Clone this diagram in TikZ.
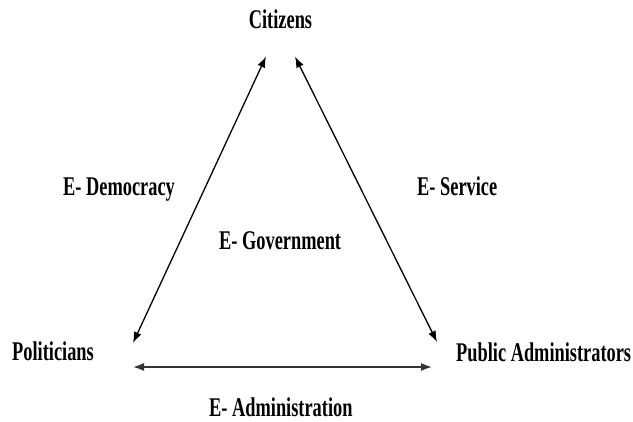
\documentclass[tikz,border=0pt]{standalone}
\usepackage{fontspec}
\setmainfont{Liberation Serif}[FakeStretch=0.68]
\usetikzlibrary{arrows.meta}
\tikzset{
  lbl/.style={inner sep=0pt, font=\fontsize{27}{30}\selectfont\bfseries},
  link/.style={line width=1.3pt, {Latex[length=11pt,width=8pt]}-{Latex[length=11pt,width=8pt]}},
}
\begin{document}
\begin{tikzpicture}[x=1pt,y=-1pt]
\useasboundingbox (0,0) rectangle (633,422);
\node[lbl, anchor=base] (cit) at (280.5,29) {Citizens};
\node[lbl, anchor=base west] (pol) at (12,360.5) {Politicians};
\node[lbl, anchor=base west] (pub) at (456,361.5) {Public Administrators};
\node[lbl, anchor=base west] (dem) at (63,196) {E- Democracy};
\node[lbl, anchor=base west] (ser) at (417,196) {E- Service};
\node[lbl, anchor=base west] (gov) at (219,249.5) {E- Government};
\node[lbl, anchor=base west] (adm) at (209,417) {E- Administration};
\coordinate (cl) at (266,56.5);
\coordinate (cr) at (295,56.5);
\coordinate (pt) at (133,343);
\coordinate (pb) at (133,367);
\coordinate (at) at (437,342);
\coordinate (ab) at (432,367);
\draw[link] (cl) -- (pt);
\draw[link] (cr) -- (at);
\draw[link, line width=1.6pt, black!80] (pb) -- (ab);
\end{tikzpicture}
\end{document}
